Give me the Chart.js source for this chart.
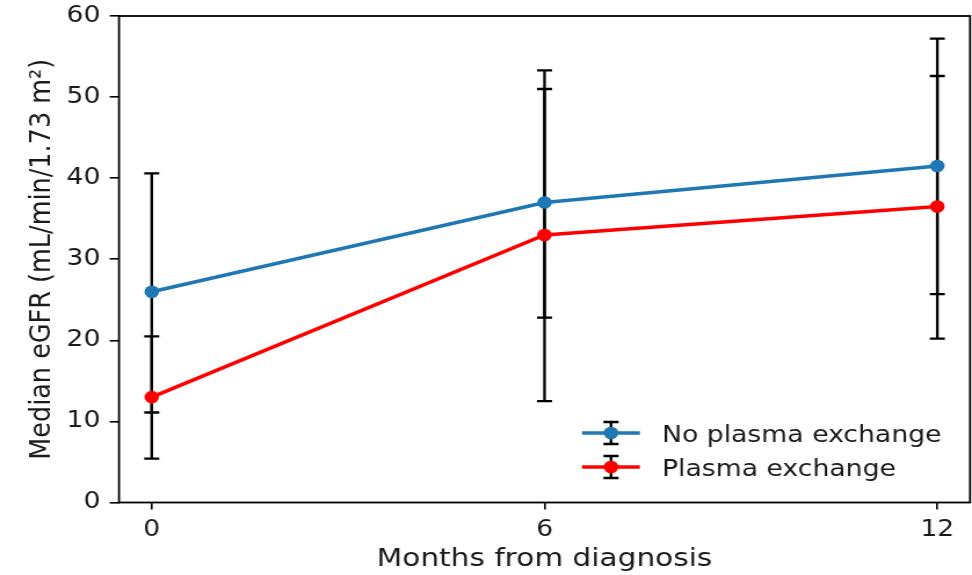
<!DOCTYPE html>
<html>
<head>
<meta charset="utf-8">
<script src="https://cdn.jsdelivr.net/npm/chart.js@4.4.0/dist/chart.umd.min.js"></script>
<style>
  html, body { margin: 0; padding: 0; background: #fff; }
  /* the source picture is stretched sideways, so the canvas is drawn narrower and scaled up */
  #chart { display: block; width: 972px !important; height: 575px !important; }
</style>
</head>
<body>
<canvas id="chart" width="838" height="575"></canvas>
<script>
const months = [0, 6, 12];
const noPlasmaMedian = [26, 37, 41.5];
const noPlasmaLow = [11.1, 22.8, 25.7];
const noPlasmaHigh = [40.6, 53.3, 57.2];
const plasmaMedian = [13, 33, 36.5];
const plasmaLow = [5.4, 12.5, 20.2];
const plasmaHigh = [20.5, 51.0, 52.6];
const yTicks = [0, 10, 20, 30, 40, 50, 60];
const seriesLabels = ["No plasma exchange", "Plasma exchange"];
const seriesColors = ["#1f77b4", "#ff0000"];

const FONT = "'DejaVu Sans', sans-serif";
const INK = "#1a1a1a";

const errorBars = {
  id: "errorBars",
  beforeDatasetsDraw(chart) {
    const { ctx, scales: { x, y } } = chart;
    ctx.save();
    ctx.strokeStyle = "#000";
    ctx.lineWidth = 2.3;
    chart.data.datasets.forEach(ds => {
      ds.data.forEach((p, i) => {
        const px = x.getPixelForValue(p.x);
        const top = y.getPixelForValue(ds.high[i]);
        const bot = y.getPixelForValue(ds.low[i]);
        ctx.beginPath();
        ctx.moveTo(px, top); ctx.lineTo(px, bot);
        ctx.moveTo(px - 6.5, top); ctx.lineTo(px + 6.5, top);
        ctx.moveTo(px - 6.5, bot); ctx.lineTo(px + 6.5, bot);
        ctx.stroke();
      });
    });
    ctx.restore();
  }
};

const frameAndLegend = {
  id: "frameAndLegend",
  afterDraw(chart) {
    const { ctx, chartArea: ca } = chart;
    ctx.save();
    ctx.strokeStyle = "#000";
    ctx.lineWidth = 1.8;
    ctx.strokeRect(ca.left, ca.top, ca.right - ca.left, ca.bottom - ca.top);

    // legend, lower right, no frame
    const hx0 = ca.right - 334.5, hx1 = ca.right - 284.6, hm = (hx0 + hx1) / 2;
    const tx = ca.right - 265.6;
    const rowsY = [ca.bottom - 69.5, ca.bottom - 35.5];
    chart.data.datasets.forEach((ds, i) => {
      const yy = rowsY[i];
      ctx.strokeStyle = "#000";
      ctx.lineWidth = 2.3;
      ctx.beginPath();
      ctx.moveTo(hm, yy - 11); ctx.lineTo(hm, yy + 11);
      ctx.moveTo(hm - 6.5, yy - 11); ctx.lineTo(hm + 6.5, yy - 11);
      ctx.moveTo(hm - 6.5, yy + 11); ctx.lineTo(hm + 6.5, yy + 11);
      ctx.stroke();
      ctx.strokeStyle = ds.borderColor;
      ctx.lineWidth = 3.5;
      ctx.beginPath();
      ctx.moveTo(hx0, yy); ctx.lineTo(hx1, yy);
      ctx.stroke();
      ctx.fillStyle = ds.borderColor;
      ctx.beginPath();
      ctx.arc(hm, yy, 6.3, 0, Math.PI * 2);
      ctx.fill();
      ctx.fillStyle = INK;
      ctx.font = "23px " + FONT;
      ctx.textAlign = "left";
      ctx.textBaseline = "middle";
      ctx.fillText(ds.label, tx, yy + 3);
    });
    ctx.restore();
  }
};

function makeSeries(label, color, med, low, high) {
  return {
    label: label,
    data: months.map((m, i) => ({ x: m, y: med[i] })),
    low: low,
    high: high,
    borderColor: color,
    backgroundColor: color,
    borderWidth: 3.5,
    pointRadius: 6.3,
    pointHoverRadius: 6.3,
    pointBorderWidth: 0,
    tension: 0
  };
}

function noEdgePadding(s) {
  s.paddingLeft = 0; s.paddingRight = 0; s.paddingTop = 0; s.paddingBottom = 0;
}

new Chart(document.getElementById("chart"), {
  type: "line",
  data: {
    datasets: [
      makeSeries(seriesLabels[0], seriesColors[0], noPlasmaMedian, noPlasmaLow, noPlasmaHigh),
      makeSeries(seriesLabels[1], seriesColors[1], plasmaMedian, plasmaLow, plasmaHigh)
    ]
  },
  options: {
    responsive: false,
    animation: false,
    devicePixelRatio: 1,
    layout: { autoPadding: false, padding: { left: 0, right: 1.7, top: 16, bottom: 0 } },
    plugins: { legend: { display: false }, tooltip: { enabled: false } },
    scales: {
      x: {
        type: "linear",
        min: -0.5,
        max: 12.5,
        afterBuildTicks: s => { s.ticks = months.map(v => ({ value: v })); },
        afterFit: s => { s.height = 72.5; noEdgePadding(s); },
        grid: { display: true, drawOnChartArea: false, drawTicks: true, tickLength: 7, color: "#000", lineWidth: 1.6 },
        border: { display: false },
        ticks: { color: INK, font: { family: FONT, size: 23 }, padding: 7, maxRotation: 0 },
        title: { display: true, text: "Months from diagnosis", color: INK, font: { family: FONT, size: 25.5 }, padding: { top: 0, bottom: 0 } }
      },
      y: {
        min: 0,
        max: 60,
        afterBuildTicks: s => { s.ticks = yTicks.map(v => ({ value: v })); },
        afterFit: s => { s.width = 102.6; noEdgePadding(s); },
        grid: { display: true, drawOnChartArea: false, drawTicks: true, tickLength: 8, color: "#000", lineWidth: 1.6 },
        border: { display: false },
        ticks: { color: INK, font: { family: FONT, size: 23 }, padding: 8 },
        title: { display: true, text: "Median eGFR (mL/min/1.73 m²)", color: INK, font: { family: FONT, size: 25.5 }, padding: { top: 21, bottom: 0 } }
      }
    }
  },
  plugins: [errorBars, frameAndLegend]
});
</script>
</body>
</html>
